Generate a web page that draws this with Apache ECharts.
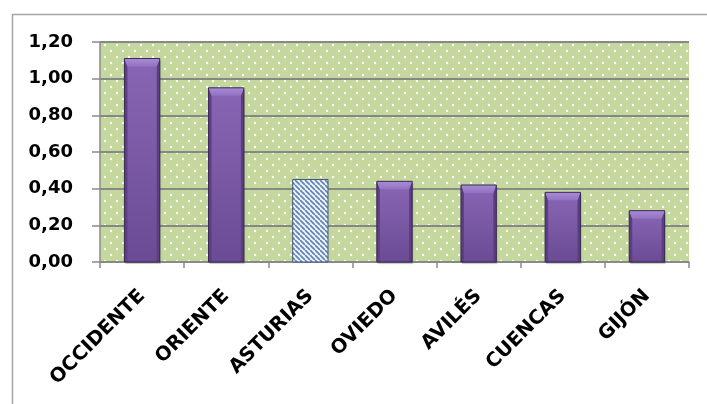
<!DOCTYPE html>
<html>
<head>
<meta charset="utf-8">
<script src="https://cdn.jsdelivr.net/npm/echarts@6/dist/echarts.min.js"></script>
<style>html,body{margin:0;padding:0;background:#fff}#c{width:707px;height:404px}</style>
</head>
<body>
<div id="c"></div>
<script>
const categories = ['OCCIDENTE', 'ORIENTE', 'ASTURIAS', 'OVIEDO', 'AVILÉS', 'CUENCAS', 'GIJÓN'];
const values = [1.11, 0.95, 0.45, 0.44, 0.42, 0.38, 0.28];
const highlightIndex = 2;
const yTicks = { min: 0, max: 1.2, interval: 0.2 };

function dotPattern() {
  const s = 12;
  const c = document.createElement('canvas');
  c.width = s; c.height = s;
  const g = c.getContext('2d');
  g.fillStyle = '#c4d79c';
  g.fillRect(0, 0, s, s);
  g.fillStyle = 'rgba(255,255,255,0.95)';
  g.beginPath(); g.arc(3, 3, 1.2, 0, Math.PI * 2); g.fill();
  g.beginPath(); g.arc(9, 9, 1.2, 0, Math.PI * 2); g.fill();
  return c;
}
function stripePattern() {
  const s = 5;
  const c = document.createElement('canvas');
  c.width = s; c.height = s;
  const g = c.getContext('2d');
  g.fillStyle = '#eef6fc';
  g.fillRect(0, 0, s, s);
  g.strokeStyle = '#6382b5';
  g.lineWidth = 1.7;
  for (const k of [-s, 0, s]) {
    g.beginPath(); g.moveTo(0, k); g.lineTo(s, s + k); g.stroke();
  }
  return c;
}
const stripes = { image: stripePattern(), repeat: 'repeat' };

function renderBar(params, api) {
  const idx = api.value(0);
  const v = api.value(1);
  const top = api.coord([idx, v]);
  const base = api.coord([idx, 0]);
  const bw = api.size([1, 0])[0] * 0.42;
  const x = top[0] - bw / 2, y = top[1], h = base[1] - top[1];
  if (idx === highlightIndex) {
    return { type: 'rect', shape: { x, y, width: bw, height: h },
      style: { fill: stripes, stroke: '#44597d', lineWidth: 1 } };
  }
  const b = Math.min(8, h / 2), sd = 3;
  return { type: 'group', children: [
    { type: 'rect', shape: { x: x + 1, y: y + 2, width: bw, height: h },
      style: { fill: 'rgba(0,0,0,0.18)', shadowBlur: 3, shadowColor: 'rgba(0,0,0,0.25)' } },
    { type: 'rect', shape: { x, y, width: bw, height: h },
      style: { fill: { type: 'linear', x: 0, y: 0, x2: 0, y2: 1, colorStops: [
        { offset: 0, color: '#8966b5' }, { offset: 1, color: '#6b4b94' } ] } } },
    { type: 'polygon', shape: { points: [[x, y], [x + sd, y + b], [x + sd, y + h], [x, y + h]] },
      style: { fill: '#5c3f83' } },
    { type: 'polygon', shape: { points: [[x + bw, y], [x + bw - sd, y + b], [x + bw - sd, y + h], [x + bw, y + h]] },
      style: { fill: '#5a3e80' } },
    { type: 'polygon', shape: { points: [[x, y], [x + bw, y], [x + bw - sd, y + b], [x + sd, y + b]] },
      style: { fill: { type: 'linear', x: 0, y: 0, x2: 0, y2: 1, colorStops: [
        { offset: 0, color: '#a98bd6' }, { offset: 1, color: '#9272c2' } ] } } },
    { type: 'rect', shape: { x, y, width: bw, height: h },
      style: { fill: 'none', stroke: '#3b2a55', lineWidth: 1 } }
  ] };
}

const chart = echarts.init(document.getElementById('c'));
chart.setOption({
  animation: false,
  graphic: [{
    type: 'rect', left: 10, top: 12,
    shape: { width: 760, height: 460 },
    style: { fill: 'none', stroke: '#a5a5a5', lineWidth: 1.5 },
    silent: true, z: -10
  }],
  grid: {
    left: 100, right: 18, top: 42, bottom: 142,
    show: true, borderWidth: 0,
    backgroundColor: { image: dotPattern(), repeat: 'repeat' }
  },
  xAxis: {
    type: 'category',
    data: categories,
    axisLine: { lineStyle: { color: '#8a8a8a', width: 1.5 } },
    axisTick: { show: true, length: 6, lineStyle: { color: '#8a8a8a', width: 1.5 } },
    axisLabel: {
      rotate: 45, margin: 31, color: '#000', interval: 0,
      fontFamily: 'DejaVu Sans', fontWeight: 'bold', fontSize: 19.5
    }
  },
  yAxis: {
    type: 'value',
    min: yTicks.min, max: yTicks.max, interval: yTicks.interval,
    axisLine: { show: true, lineStyle: { color: '#8a8a8a', width: 1.5 } },
    axisTick: { show: true, length: 8, lineStyle: { color: '#8a8a8a', width: 1.5 } },
    splitLine: { lineStyle: { color: '#878787', width: 2 } },
    axisLabel: {
      margin: 27, color: '#000',
      fontFamily: 'DejaVu Sans', fontWeight: 'bold', fontSize: 18,
      formatter: v => v.toFixed(2).replace('.', ',')
    }
  },
  series: [{
    type: 'custom',
    renderItem: renderBar,
    encode: { x: 0, y: 1 },
    data: values.map((v, i) => [i, v])
  }]
});
</script>
</body>
</html>
